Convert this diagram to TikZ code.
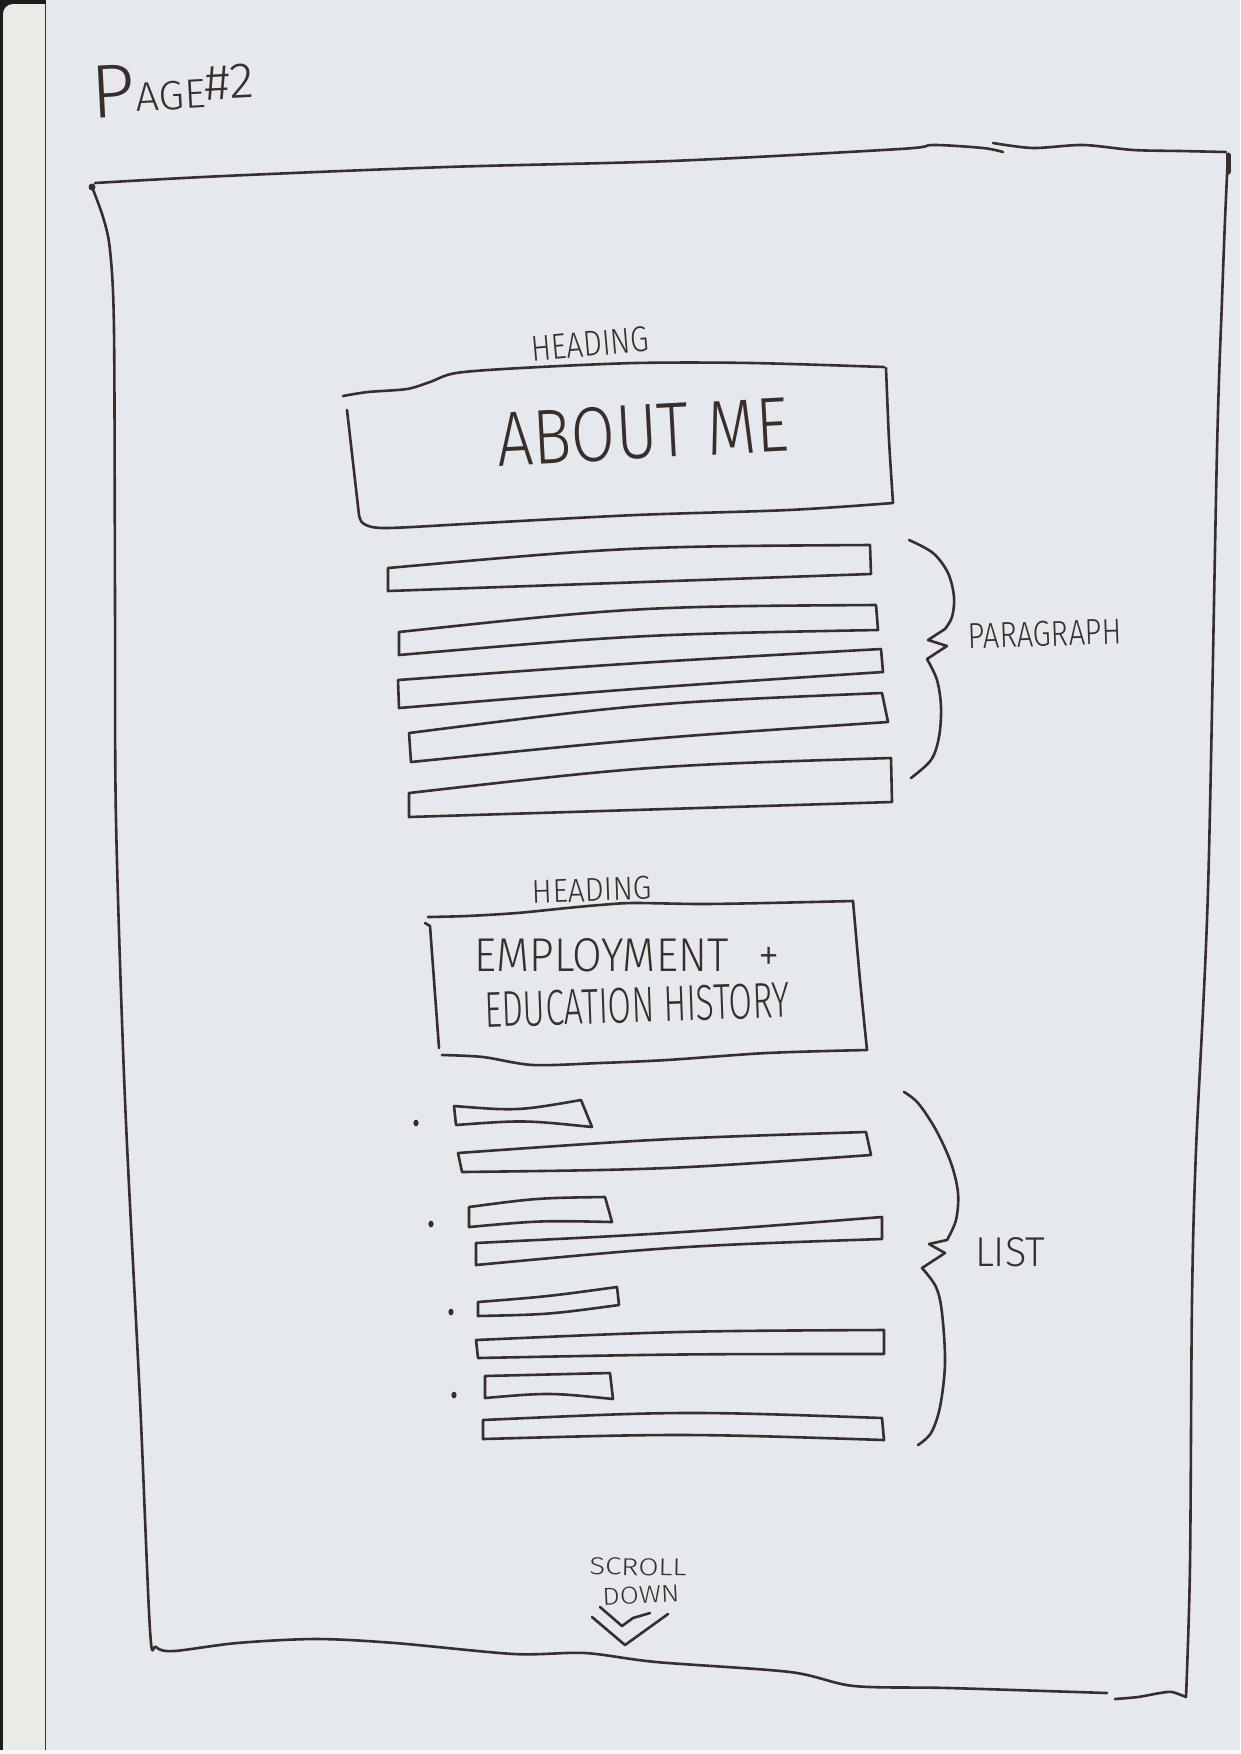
\documentclass[tikz,border=0pt]{standalone}
\usepackage{fontspec}
\newfontfamily\hand{Fira Sans Light}
\usetikzlibrary{calc}
\definecolor{paper}{RGB}{229,232,237}
\definecolor{strip}{RGB}{235,235,230}
\definecolor{edge}{RGB}{28,28,28}
\definecolor{ink}{RGB}{58,46,42}
\tikzset{
  pen/.style={draw=ink, line width=2.6pt, line cap=round, line join=round},
  label/.style={text=ink, inner sep=0pt, outer sep=0pt},
}
% hand lettering squeezed into a given width and cap height
\newcommand{\hw}[3]{\resizebox{#1pt}{#2pt}{\hand #3}}
% a placeholder bar: TL, BL, BR, TR, bow of top edge, bow of bottom edge
\newcommand{\wirebar}[6]{%
  \draw[pen] (#1) -- (#2) .. controls ($(#2)!0.5!(#3)+(0,#6)$) .. (#3)
    -- (#4) .. controls ($(#4)!0.5!(#1)+(0,#5)$) .. (#1);}
\begin{document}
\begin{tikzpicture}[x=1pt,y=-1pt]
\useasboundingbox (0,0) rectangle (1240,1754);
% sheet and scanner edge
\fill[paper] (0,0) rectangle (1240,1754);
\fill[edge] (0,0) rectangle (46,1754);
\fill[strip] (3,1760) -- (3,14) arc[start angle=180,end angle=270,radius=10] -- (45,4) -- (45,1760) -- cycle;
\fill[white!70!paper] (0,1750) rectangle (1240,1754);

% title
\node[label] (page) at (173,88) [rotate=3]
  {\hw{163}{52}{P\raisebox{0.6pt}{\fontsize{5.4}{6}\selectfont AGE}\raisebox{1.6pt}{\fontsize{6.6}{7}\selectfont\#2}}};

% page frame
\draw[pen] plot[smooth,tension=0.5] coordinates {(95,183) (224,176) (447,167) (671,161) (900,149) (933,145) (983,148) (1003,152)};
\draw[pen] plot[smooth,tension=0.5] coordinates {(993,143) (1033,148) (1083,145) (1133,150) (1180,151) (1226,152)};
\draw[pen] plot[smooth,tension=0.5] coordinates {(1228,154) (1225,220) (1222,300) (1217,450) (1208,890) (1196,1150) (1192,1300) (1190,1565) (1186,1697)};
\draw[pen,line width=5pt] (1228,155) -- (1228,172);
\fill[ink] (92,187) circle (3.5);
\draw[pen] plot[smooth,tension=0.5] coordinates {(92,187) (103,217) (110,250) (114,330) (115,600) (116,820) (125,1100) (140,1400) (150,1630) (156,1647) (174,1651) (237,1643) (316,1639) (395,1643) (514,1654) (585,1653) (656,1662) (790,1672) (854,1686) (949,1688) (1107,1693)};
\draw[pen] plot[smooth,tension=0.5] coordinates {(1115,1699) (1138,1697) (1160,1693) (1172,1692) (1186,1697)};

% first heading block
\node[label] (head1) at (590,344) [rotate=5] {\hw{118}{25}{HEADING}};
\draw[pen] plot[smooth,tension=0.5] coordinates {(343,396) (368,392) (407,389) (430,382) (456,373) (521,368) (636,363) (751,363) (884,367)};
\draw[pen] plot[smooth,tension=0.4] coordinates {(886,368) (889,440) (893,503)}
  -- plot[smooth,tension=0.5] coordinates {(893,503) (789,510) (636,515) (483,523) (387,528) (364,524) (359,515)}
  -- (347,410);
\node[label] (about) at (643,432) [rotate=3] {\hw{292}{54}{ABOUT ME}};

% paragraph lines
\wirebar{388,568}{388,591}{871,574}{870,545}{-10}{0}
\wirebar{399,632}{399,655}{878,630}{876,605}{-12}{-8}
\wirebar{398,680}{399,708}{883,672}{881,649}{-2}{-2}
\wirebar{409,733}{411,762}{888,722}{882,693}{-10}{-4}
\wirebar{409,793}{409,817}{892,802}{891,758}{-10}{0}
\draw[pen] plot[smooth,tension=0.55] coordinates {(909,540) (933,553) (948,573) (954,597) (952,617) (945,629)}
  -- (928,640) -- (947,646) -- (927,659)
  -- plot[smooth,tension=0.55] coordinates {(927,659) (937,680) (941,707) (939,737) (931,760) (911,778)};
\node[label] (para) at (1045,634) [rotate=2] {\hw{153}{25}{PARAGRAPH}};

% second heading block
\node[label] (head2) at (592,890) [rotate=2] {\hw{119}{23}{HEADING}};
\draw[pen] plot[smooth,tension=0.5] coordinates {(428,917) (467,916) (517,913) (567,908) (600,905) (633,903) (700,904) (767,903) (853,901)};
\draw[pen] plot[smooth,tension=0.4] coordinates {(853,901) (860,980) (867,1050)}
  -- plot[smooth,tension=0.5] coordinates {(867,1050) (767,1053) (667,1060) (600,1063) (533,1065) (483,1057) (442,1055)};
\draw[pen] (425,923) -- (430,926) -- (439,1048);
\node[label] (emp1) at (627,955) {\hw{305}{33}{EMPLOYMENT\hspace{0.7em}+}};
\node[label] (emp2) at (637,1005) [rotate=2] {\hw{305}{35}{EDUCATION HISTORY}};

% list items
\foreach \bx/\by in {416/1123, 431/1224, 451/1312, 454/1395}
  \fill[ink] (\bx,\by) ellipse (2.6 and 3.4);
\wirebar{454,1106}{456,1125}{592,1127}{581,1100}{8}{-6}
\wirebar{458,1153}{462,1172}{871,1155}{866,1132}{-4}{6}
\wirebar{469,1207}{469,1227}{612,1222}{605,1197}{-4}{-4}
\wirebar{476,1243}{476,1265}{882,1239}{882,1217}{3}{-6}
\wirebar{478,1302}{478,1316}{619,1305}{617,1287}{2}{4}
\wirebar{476,1340}{478,1358}{884,1354}{884,1330}{-4}{-2}
\wirebar{485,1376}{485,1398}{613,1399}{610,1373}{0}{-6}
\wirebar{483,1420}{483,1439}{884,1440}{882,1418}{-8}{-6}
\draw[pen] plot[smooth,tension=0.55] coordinates {(904,1092) (918,1103) (936,1130) (951,1163) (958,1193) (956,1220) (947,1240)}
  -- (929,1244) -- (945,1253) -- (922,1268)
  -- plot[smooth,tension=0.55] coordinates {(922,1268) (936,1287) (942,1313) (945,1363) (940,1407) (931,1433) (918,1445)};
\node[label] (list) at (1010,1252) {\hw{70}{29}{LIST}};

% scroll hint
\node[label] (scroll) at (638,1567) [rotate=-1] {\hw{97}{17}{SCROLL}};
\node[label] (down) at (641,1595) [rotate=3] {\hw{77}{17}{DOWN}};
\draw[pen] (600,1607) -- (622,1626) -- (633,1618) -- (650,1613);
\draw[pen] (592,1617) -- (625,1645) -- (668,1614);
\end{tikzpicture}
\end{document}
